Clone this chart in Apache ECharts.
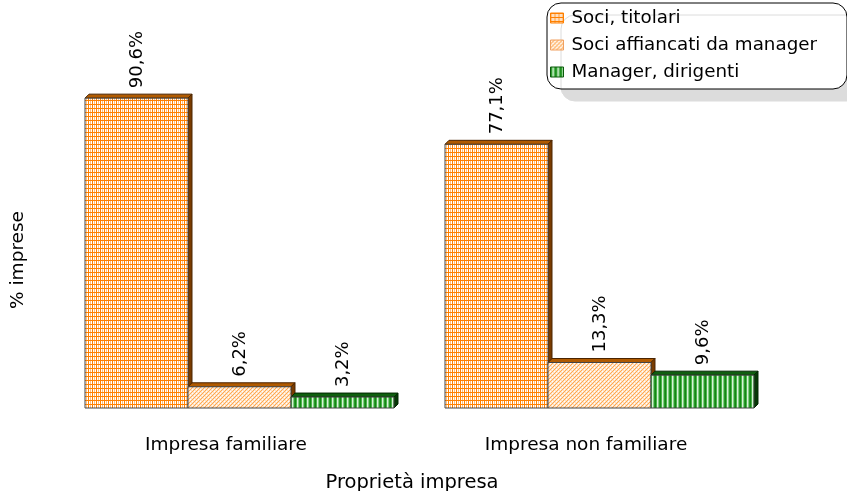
<!DOCTYPE html>
<html>
<head>
<meta charset="utf-8">
<script src="https://cdn.jsdelivr.net/npm/echarts@6/dist/echarts.min.js"></script>
<style>
  html, body { margin: 0; padding: 0; background: #fff; }
  #chart { width: 847px; height: 491px; }
</style>
</head>
<body>
<div id="chart"></div>
<script>
// Ownership type of the firm and who manages it (% of firms)
const categories = ['Impresa familiare', 'Impresa non familiare'];
const seriesNames = ['Soci, titolari', 'Soci affiancati da manager', 'Manager, dirigenti'];
const sociTitolari = [90.6, 77.1];
const sociAffiancati = [6.2, 13.3];
const managerDirigenti = [3.2, 9.6];

const FONT = '"DejaVu Sans", Verdana, sans-serif';

// Small repeating tiles used as fills for the bar faces; each call gives a fresh pattern
function makeTile(w, h, paint) {
  const c = document.createElement('canvas');
  c.width = w; c.height = h;
  const ctx = c.getContext('2d');
  ctx.fillStyle = '#ffffff';
  ctx.fillRect(0, 0, w, h);
  paint(ctx);
  return { image: c, repeat: 'repeat' };
}
const gridFill = () => makeTile(4, 4, ctx => {
  ctx.fillStyle = '#ffc080'; ctx.fillRect(2, 0, 1, 4);
  ctx.fillStyle = '#ff8000'; ctx.fillRect(0, 0, 1, 4); ctx.fillRect(0, 0, 4, 1);
});
const dotFill = () => makeTile(4, 4, ctx => {
  ctx.fillStyle = '#ffe2c4'; ctx.fillRect(0, 0, 4, 4);
  ctx.fillStyle = '#ffa850';
  [[0, 3], [1, 2], [2, 1], [3, 0]].forEach(p => ctx.fillRect(p[0], p[1], 1, 1));
  ctx.fillStyle = '#ffffff';
  [[2, 3], [0, 1]].forEach(p => ctx.fillRect(p[0], p[1], 1, 1));
});
const stripeFill = () => makeTile(5, 1, ctx => {
  const cols = ['#138613', '#4cb44c', '#d8f2d8', '#80cc80', '#2a9a2a'];
  cols.forEach((col, i) => { ctx.fillStyle = col; ctx.fillRect(i, 0, 1, 1); });
});

const styles = [
  { fill: gridFill, top: '#b05a00', side: '#7a3c00', edge: '#4a2400', key: '#ff8000' },
  { fill: dotFill, top: '#b05a00', side: '#7a3c00', edge: '#4a2400', key: '#f0a060' },
  { fill: stripeFill, top: '#0f5f0f', side: '#063806', edge: '#032803', key: '#0a5a0a' }
];
const values = [sociTitolari, sociAffiancati, managerDirigenti];

const DEPTH = 4;
const BAR_FRACTION = 0.2861;

function makeRenderer(k) {
  const st = styles[k];
  const faceFill = st.fill();
  return function (params, api) {
    const cat = api.value(0);
    const val = api.value(1);
    const top = api.coord([cat, val]);
    const base = api.coord([cat, 0]);
    const band = api.size([1, 0])[0];
    const w = band * BAR_FRACTION;
    const cx = top[0] + (k - 1) * w;
    const x0 = cx - w / 2, x1 = cx + w / 2;
    const y0 = top[1], y1 = base[1];
    return {
      type: 'group',
      children: [
        { type: 'polygon', shape: { points: [[x0, y0], [x0 + DEPTH, y0 - DEPTH], [x1 + DEPTH, y0 - DEPTH], [x1, y0]] },
          style: { fill: st.top, stroke: st.edge, lineWidth: 1 } },
        { type: 'polygon', shape: { points: [[x1, y0], [x1 + DEPTH, y0 - DEPTH], [x1 + DEPTH, y1 - DEPTH], [x1, y1]] },
          style: { fill: st.side, stroke: st.edge, lineWidth: 1 } },
        { type: 'rect', shape: { x: x0, y: y0, width: w, height: y1 - y0 },
          style: { fill: faceFill, stroke: '#444', lineWidth: 1 } },
        { type: 'text', x: cx + 1, y: y0 - DEPTH - 6, rotation: Math.PI / 2,
          style: { text: val.toFixed(1).replace('.', ',') + '%', font: '18px ' + FONT,
                   fill: '#000', align: 'left', verticalAlign: 'middle' } }
      ]
    };
  };
}

const series = seriesNames.map((name, k) => ({
  name: name,
  type: 'custom',
  renderItem: makeRenderer(k),
  itemStyle: { color: styles[k].fill(), borderColor: '#444', borderWidth: 1 },
  encode: { x: 0, y: 1 },
  data: categories.map((c, i) => [i, values[k][i]])
}));

const chart = echarts.init(document.getElementById('chart'), null, { renderer: 'canvas' });
chart.setOption({
  animation: false,
  backgroundColor: '#ffffff',
  grid: { left: 59.5, right: 67.5, top: 66, bottom: 83, outerBoundsMode: 'none' },
  legend: {
    orient: 'vertical',
    left: 547, top: 3,
    padding: [5, 30, 7, 3],
    itemGap: 7,
    itemWidth: 13, itemHeight: 10,
    icon: 'rect',
    backgroundColor: '#ffffff',
    borderColor: '#000', borderWidth: 1, borderRadius: 14,
    shadowColor: '#dcdcdc', shadowBlur: 0, shadowOffsetX: 14, shadowOffsetY: 12,
    textStyle: { fontFamily: FONT, fontSize: 18.3, lineHeight: 20, color: '#000', padding: [0, 0, 0, 3] },
    data: seriesNames.map((name, k) => ({
      name: name,
      itemStyle: { color: styles[k].fill(), borderColor: styles[k].key, borderWidth: 1 }
    }))
  },
  xAxis: {
    type: 'category',
    data: categories,
    name: 'Proprietà impresa',
    nameLocation: 'middle',
    nameGap: 65,
    nameTextStyle: { fontFamily: FONT, fontSize: 19.5, color: '#000', padding: [0, 15, 0, 0] },
    axisLine: { show: false },
    axisTick: { show: false },
    axisLabel: { fontFamily: FONT, fontSize: 18.5, color: '#000', margin: 28, padding: [0, 27, 0, 0] }
  },
  yAxis: {
    type: 'value',
    min: 0, max: 100,
    name: '% imprese',
    nameLocation: 'middle',
    nameGap: 32,
    nameTextStyle: { fontFamily: FONT, fontSize: 18.5, color: '#000', padding: [0, 46, 0, 0] },
    axisLine: { show: false },
    axisTick: { show: false },
    axisLabel: { show: false },
    splitLine: { show: false }
  },
  series: series
});
</script>
</body>
</html>
